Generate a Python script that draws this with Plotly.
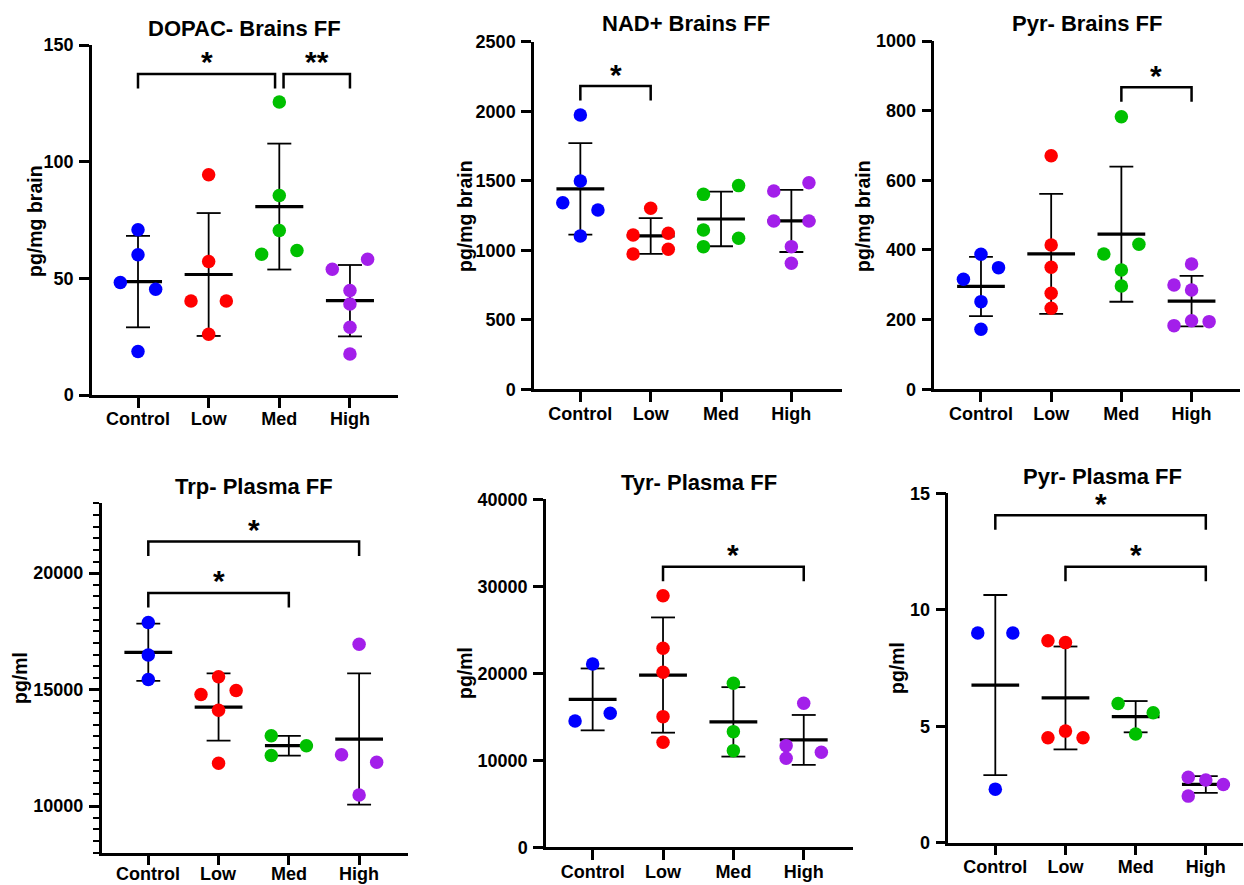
import numpy as np
import plotly.graph_objects as go

W, H = 1244, 885

categories = ["Control", "Low", "Med", "High"]
group_colors = ["#0000FF", "#FF0000", "#00C000", "#A31FEA"]

# ---------------- data ----------------
dopac_control = [70.8, 60.1, 48.2, 45.3, 18.6]
dopac_low = [94.4, 57.2, 40.3, 40.3, 26.0]
dopac_med = [125.6, 85.5, 70.5, 60.3, 61.9]
dopac_high = [53.9, 58.2, 44.8, 39.0, 29.0, 17.6]

nad_control = [1973, 1498, 1342, 1290, 1103]
nad_low = [1302, 1110, 1122, 973, 1007]
nad_med = [1402, 1465, 1146, 1026, 1086]
nad_high = [1426, 1486, 1210, 1210, 1026, 906]

pyrb_control = [387.6, 349.3, 315.8, 251.7, 172.2]
pyrb_low = [670.8, 414.4, 350.2, 275.6, 232.5]
pyrb_med = [782.8, 416.3, 388.5, 342.6, 296.7]
pyrb_high = [359.8, 299.5, 285.2, 182.8, 197.1, 194.3]

trp_control = [17885, 16489, 15439]
trp_low = [15554, 14791, 14964, 14115, 11842]
trp_med = [13022, 12590, 12173]
trp_high = [16950, 12201, 11885, 10475]

tyr_control = [21073, 15402, 14521]
tyr_low = [28925, 22871, 20113, 15018, 12068]
tyr_med = [18849, 13294, 11110]
tyr_high = [16550, 11685, 10229, 10918]

pyrp_control = [9.0, 9.0, 2.3]
pyrp_low = [8.67, 8.59, 4.79, 4.51, 4.51]
pyrp_med = [5.98, 5.58, 4.67]
pyrp_high = [2.81, 2.69, 2.50, 2.00]

# y tick labels
dopac_ticks = [0, 50, 100, 150]
nad_ticks = [0, 500, 1000, 1500, 2000, 2500]
pyrb_ticks = [0, 200, 400, 600, 800, 1000]
trp_ticks = [10000, 15000, 20000]
tyr_ticks = [0, 10000, 20000, 30000, 40000]
pyrp_ticks = [0, 5, 10, 15]

# significance comparisons: (group a, group b, bracket level, label)
dopac_sig = [(0, 2, 137.6, "*"), (2, 3, 137.6, "**")]
nad_sig = [(0, 1, 2181, "*")]
pyrb_sig = [(2, 3, 867, "*")]
trp_sig = [(0, 3, 21364, "*"), (0, 2, 19150, "*")]
tyr_sig = [(1, 3, 32253, "*")]
pyrp_sig = [(0, 3, 14.06, "*"), (1, 3, 11.85, "*")]

# ---------------- layout / style (dot-plot dodge slots, geometry) ----------------
dopac_slots = [[0, 0, -1, 1, 0], [0, 0, -1, 1, 0], [0, 0, 0, -1, 1], [-1, 1, 0, 0, 0, 0]]
nad_slots = [[0, 0, -1, 1, 0], [0, -1, 1, -1, 1], [-1, 1, -1, -1, 1], [-1, 1, -1, 1, 0, 0]]
pyrb_slots = [[0, 1, -1, 0, 0], [0, 0, 0, 0, 0], [0, 1, -1, 0, 0], [0, -1, 0, -1, 0, 1]]
trp_slots = [[0, 0, 0], [0, -1, 1, 0, 0], [-1, 1, -1], [0, -1, 1, 0]]
tyr_slots = [[0, 1, -1], [0, 0, 0, 0, 0], [0, 0, 0], [0, -1, -1, 1]]
pyrp_slots = [[-1, 1, 0], [-1, 0, 0, -1, 1], [-1, 1, 0], [-1, 0, 1, -1]]

FONT = "Liberation Sans, Arial, Helvetica, sans-serif"
SLOT_W = 0.25
MEAN_HALF = 0.34
CAP_HALF = 0.17
DROP_PX = 14.5

panels = [
    dict(title="DOPAC- Brains FF", ytitle="pg/mg brain",
         groups=[dopac_control, dopac_low, dopac_med, dopac_high], slots=dopac_slots,
         sig=dopac_sig, insets={(0, 2): (0, 0.06), (2, 3): (0.06, 0)}, yticks=dopac_ticks,
         xpx=(92, 398), ypx=(45, 395), xr=(-0.651, 3.68), yr=(0, 150), minor=None,
         tpos=(244, 28), ytpos=(35, 221), edge_labels=False),
    dict(title="NAD+ Brains FF", ytitle="pg/mg brain",
         groups=[nad_control, nad_low, nad_med, nad_high], slots=nad_slots,
         sig=nad_sig, insets={}, yticks=nad_ticks,
         xpx=(534, 842), ypx=(41.7, 389.3), xr=(-0.659, 3.72), yr=(0, 2500), minor=None,
         tpos=(686, 23.5), ytpos=(465, 216), edge_labels=False),
    dict(title="Pyr- Brains FF", ytitle="pg/mg brain",
         groups=[pyrb_control, pyrb_low, pyrb_med, pyrb_high], slots=pyrb_slots,
         sig=pyrb_sig, insets={}, yticks=pyrb_ticks,
         xpx=(934.3, 1240), ypx=(41, 389.3), xr=(-0.665, 3.69), yr=(0, 1000), minor=None,
         tpos=(1087, 23.5), ytpos=(863, 216), edge_labels=False),
    dict(title="Trp- Plasma FF", ytitle="pg/ml",
         groups=[trp_control, trp_low, trp_med, trp_high], slots=trp_slots,
         sig=trp_sig, insets={}, yticks=trp_ticks,
         xpx=(101.7, 408.3), ypx=(503.3, 852.7), xr=(-0.663, 3.70), yr=(8000, 23000),
         minor=500,
         tpos=(254, 487), ytpos=(20, 678), edge_labels=True),
    dict(title="Tyr- Plasma FF", ytitle="pg/ml",
         groups=[tyr_control, tyr_low, tyr_med, tyr_high], slots=tyr_slots,
         sig=tyr_sig, insets={}, yticks=tyr_ticks,
         xpx=(546, 853), ypx=(499.3, 847.3), xr=(-0.663, 3.70), yr=(0, 40000), minor=None,
         tpos=(699, 482), ytpos=(465, 673), edge_labels=False),
    dict(title="Pyr- Plasma FF", ytitle="pg/ml",
         groups=[pyrp_control, pyrp_low, pyrp_med, pyrp_high], slots=pyrp_slots,
         sig=pyrp_sig, insets={}, yticks=pyrp_ticks,
         xpx=(948.3, 1243), ypx=(493.3, 842.7), xr=(-0.67, 3.53), yr=(0, 15), minor=None,
         tpos=(1102, 476), ytpos=(897, 668), edge_labels=False),
]


def px2x(p):
    return p / W


def px2y(p):
    return 1 - p / H


fig = go.Figure()
annotations = []
layout_axes = {}

for k, P in enumerate(panels):
    n = "" if k == 0 else str(k + 1)
    xa, ya = "x" + n, "y" + n
    px_per_unit = (P["ypx"][1] - P["ypx"][0]) / (P["yr"][1] - P["yr"][0])
    drop = DROP_PX / px_per_unit

    # significance brackets
    bx, by = [], []
    for (a, b, lvl, lab) in P["sig"]:
        ia, ib = P["insets"].get((a, b), (0, 0))
        x0, x1 = a + ia, b - ib
        bx += [x0, x0, x1, x1, None]
        by += [lvl - drop, lvl, lvl, lvl - drop, None]
        annotations.append(dict(x=(x0 + x1) / 2, y=lvl, xref=xa, yref=ya, text="<b>" + lab + "</b>",
                                showarrow=False, yanchor="middle", yshift=12,
                                font=dict(family=FONT, size=30, color="black")))
    fig.add_trace(go.Scatter(x=bx, y=by, xaxis=xa, yaxis=ya, mode="lines",
                             line=dict(color="black", width=2.5), hoverinfo="skip",
                             showlegend=False, cliponaxis=False))

    # SD whiskers and mean lines
    wx, wy, mx, my = [], [], [], []
    for i, g in enumerate(P["groups"]):
        arr = np.asarray(g, dtype=float)
        m = arr.mean()
        s = arr.std(ddof=1)
        wx += [i, i, None, i - CAP_HALF, i + CAP_HALF, None, i - CAP_HALF, i + CAP_HALF, None]
        wy += [m - s, m + s, None, m + s, m + s, None, m - s, m - s, None]
        mx += [i - MEAN_HALF, i + MEAN_HALF, None]
        my += [m, m, None]
    fig.add_trace(go.Scatter(x=wx, y=wy, xaxis=xa, yaxis=ya, mode="lines",
                             line=dict(color="black", width=1.8), hoverinfo="skip",
                             showlegend=False, cliponaxis=False))
    fig.add_trace(go.Scatter(x=mx, y=my, xaxis=xa, yaxis=ya, mode="lines",
                             line=dict(color="black", width=3.2), hoverinfo="skip",
                             showlegend=False, cliponaxis=False))

    # dots
    for i, g in enumerate(P["groups"]):
        xs = [i + sl * SLOT_W for sl in P["slots"][i]]
        fig.add_trace(go.Scatter(x=xs, y=g, xaxis=xa, yaxis=ya, mode="markers",
                                 marker=dict(color=group_colors[i], size=13.5, line=dict(width=0)),
                                 showlegend=False, cliponaxis=False, name=categories[i]))

    # axes
    axis_common = dict(showgrid=False, zeroline=False, showline=True, linecolor="black",
                       linewidth=2.5, ticks="outside", ticklen=10, tickwidth=2.5,
                       tickcolor="black", automargin=False,
                       tickfont=dict(family=FONT, size=18, color="black"))
    layout_axes["xaxis" + n] = dict(axis_common, domain=[px2x(P["xpx"][0]), px2x(P["xpx"][1])],
                                    range=list(P["xr"]), anchor=ya, tickmode="array",
                                    tickvals=[0, 1, 2, 3],
                                    ticktext=["<b>" + c + "</b>" for c in categories],
                                    ticklabelstandoff=-4,
                                    showticklabels=not P["edge_labels"])
    if P["edge_labels"]:
        # category labels of the panel touching the bottom edge: kept fully inside the page
        for i, c in enumerate(categories):
            annotations.append(dict(x=i, y=0, xref=xa, yref="paper", text="<b>" + c + "</b>",
                                    showarrow=False, xanchor="center", yanchor="bottom",
                                    borderpad=0,
                                    font=dict(family=FONT, size=18, color="black")))
    yax = dict(axis_common, domain=[px2y(P["ypx"][1]), px2y(P["ypx"][0])],
               range=list(P["yr"]), anchor=xa, tickmode="array",
               tickvals=P["yticks"], ticktext=["<b>%g</b>" % v for v in P["yticks"]],
               ticklabelstandoff=2)
    if P["minor"]:
        yax["minor"] = dict(tickmode="linear", dtick=P["minor"], tick0=0, ticks="outside",
                            ticklen=6, tickwidth=2.2, tickcolor="black")
    layout_axes["yaxis" + n] = yax

    # titles
    annotations.append(dict(x=px2x(P["tpos"][0]), y=px2y(P["tpos"][1]), xref="paper", yref="paper",
                            text="<b>" + P["title"] + "</b>", showarrow=False,
                            xanchor="center", yanchor="middle",
                            font=dict(family=FONT, size=22, color="black")))
    annotations.append(dict(x=px2x(P["ytpos"][0]), y=px2y(P["ytpos"][1]), xref="paper", yref="paper",
                            text="<b>" + P["ytitle"] + "</b>", showarrow=False,
                            xanchor="center", yanchor="middle", textangle=-90,
                            font=dict(family=FONT, size=19.5, color="black")))

fig.update_layout(width=W, height=H, margin=dict(l=0, r=0, t=0, b=0),
                  paper_bgcolor="white", plot_bgcolor="white", showlegend=False,
                  annotations=annotations, **layout_axes)

fig.write_html("out.html", config={"displayModeBar": False},
               post_script="document.body.style.margin='0';document.body.style.overflow='hidden';")
